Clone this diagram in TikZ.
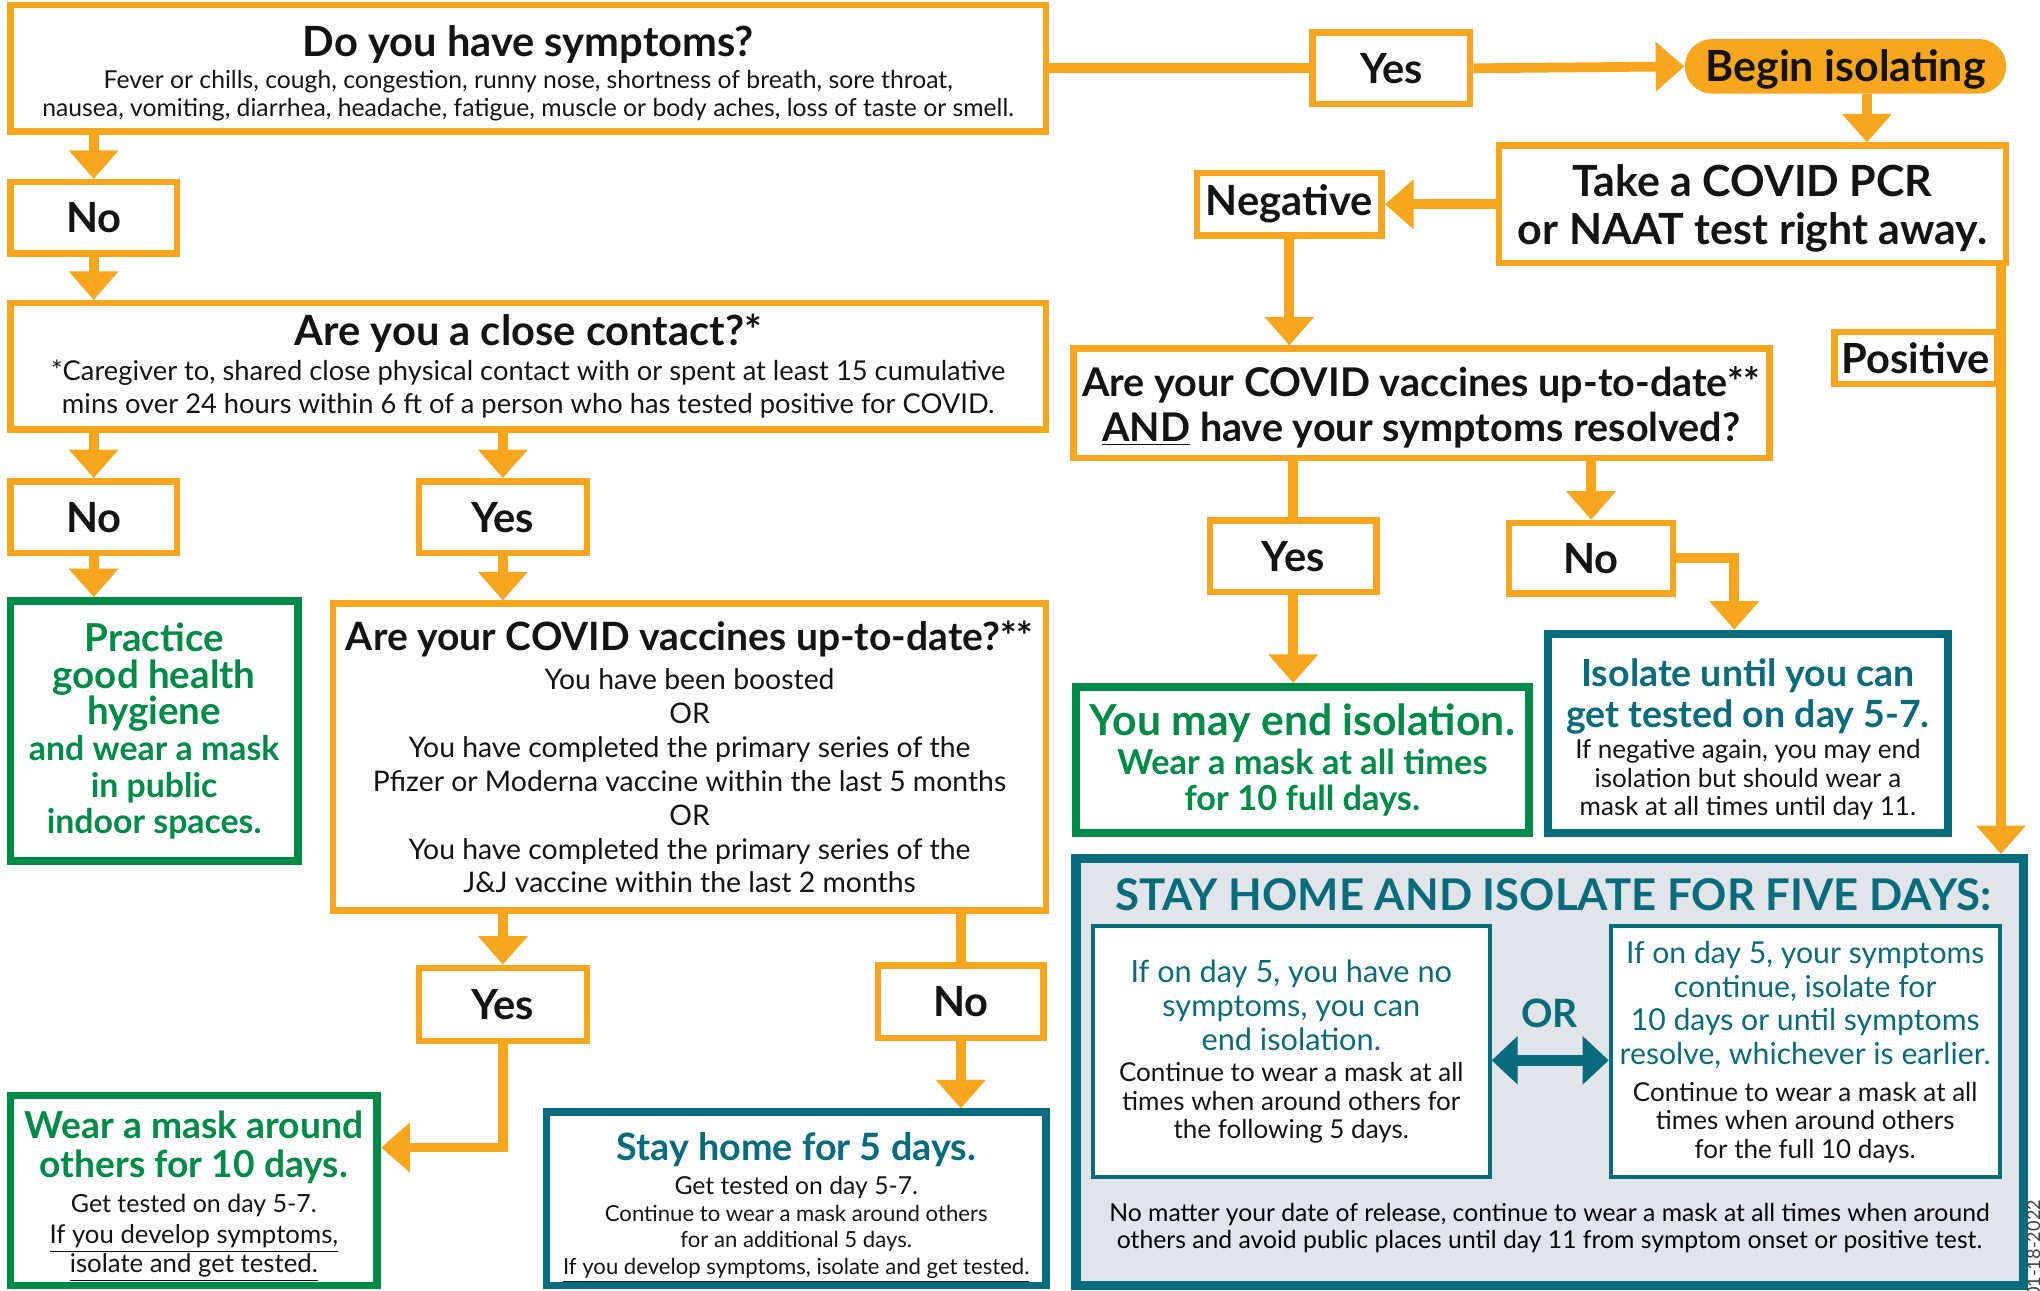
\documentclass[tikz,border=0pt]{standalone}
\usepackage{fontspec}
\setmainfont{Lato}
\usetikzlibrary{arrows.meta,calc}
\definecolor{org}{RGB}{247,166,30}
\definecolor{grn}{RGB}{0,140,70}
\definecolor{tel}{RGB}{8,108,125}
\definecolor{gry}{RGB}{225,228,232}
\definecolor{ink}{RGB}{20,20,20}
\newcommand\fs[2]{\fontsize{#1}{#2}\selectfont}
\newcommand\pb[2]{\parbox{#1}{\centering #2}}
\begin{document}
\begin{tikzpicture}[x=0.5pt,y=-0.5pt,
  obox/.style={draw=org, line width=2.5pt, fill=white, inner sep=0pt, text=ink},
  gbox/.style={draw=grn, line width=3pt, fill=white, inner sep=0pt, text=ink},
  tbox/.style={draw=tel, line width=3pt, fill=white, inner sep=0pt, text=ink},
  lbl/.style={obox, font=\fs{16}{18}\bfseries},
  conn/.style={draw=org, line width=3.75pt},
  arr/.style={conn, -{Triangle[width=18.5pt,length=11pt]}}]
\useasboundingbox (0,0) rectangle (1568,992);

% ---------- top row ----------
\node[obox, minimum width=398pt, minimum height=48.5pt] (sym) at (406,52.5)
  {\pb{392pt}{\vspace*{4pt}\fs{16}{18}\bfseries Do you have symptoms?\\[1pt]\fs{9.5}{11}\mdseries Fever or chills, cough, congestion, runny nose, shortness of breath, sore throat,\\nausea, vomiting, diarrhea, headache, fatigue, muscle or body aches, loss of taste or smell.}};
\node[lbl, minimum width=60.5pt, minimum height=27.5pt] (yes1) at (1069.5,52.5) {Yes};
\node[fill=org, rounded corners=10.5pt, minimum width=123.5pt, minimum height=21pt, inner sep=0pt, text=ink, text depth=1pt, font=\fs{16.5}{18}\bfseries] (begin) at (1418.5,51) {Begin isolating};
\node[obox, minimum width=195pt, minimum height=45pt] (pcr) at (1347,157)
  {\pb{192pt}{\vspace*{3pt}\fs{16.5}{18.5}\bfseries Take a COVID PCR\\or NAAT test right away.}};
\node[lbl, minimum width=71pt, minimum height=24pt] (neg) at (991,157) {Negative};
\node[obox, minimum width=267.5pt, minimum height=42pt] (vac2) at (1092.5,310)
  {\pb{265pt}{\vspace*{3pt}\fs{15.2}{17}\bfseries Are your COVID vaccines up-to-date**\\\underline{AND} have your symptoms resolved?}};
\node[lbl, minimum width=62.5pt, minimum height=20pt] (pos) at (1472.5,275) {Positive};
\node[lbl, minimum width=64pt, minimum height=27.5pt] (yes2) at (994,427.5) {Yes};
\node[lbl, minimum width=63pt, minimum height=27pt] (no2) at (1223,429) {No};
\node[gbox, minimum width=174pt, minimum height=56pt] (endiso) at (1001,584)
  {\pb{171pt}{\color{grn}\bfseries\fs{16.4}{16}You may end isolation.\\[1pt]\fs{13.2}{14}Wear a mask at all times\\for 10 full days.}};
\node[tbox, minimum width=153.5pt, minimum height=76.5pt] (isol) at (1343.5,563.5)
  {\pb{151pt}{\vspace*{5pt}\color{tel}\bfseries\fs{14.4}{15.5}Isolate until you can\\get tested on day 5-7.\\[1pt]\color{ink}\fs{10}{11}\mdseries If negative again, you may end\\isolation but should wear a\\mask at all times until day 11.}};

% ---------- stay home box ----------
\node[draw=tel, fill=gry, line width=3.5pt, minimum width=364pt, minimum height=164pt, inner sep=0pt] (stay) at (1191,824) {};
\node[text=tel, font=\fs{16.8}{18}\bfseries, inner sep=0pt] (staytitle) at (1194,688) {STAY HOME AND ISOLATE FOR FIVE DAYS:};
\node[draw=tel, fill=white, line width=1.5pt, minimum width=152.5pt, minimum height=96.5pt, inner sep=0pt] (sleft) at (992.5,808.5)
  {\pb{149pt}{\color{tel}\fs{11.8}{13}If on day 5, you have no\\symptoms, you can\\end isolation.\\[1pt]\color{ink}\fs{10}{11}Continue to wear a mask at all\\times when around others for\\the following 5 days.}};
\node[draw=tel, fill=white, line width=1.5pt, minimum width=149.5pt, minimum height=96.5pt, inner sep=0pt] (sright) at (1387.5,808.5)
  {\pb{148pt}{\color{tel}\fs{11.6}{13}If on day 5, your symptoms\\continue, isolate for\\10 days or until symptoms\\resolve, whichever is earlier.\\[3pt]\color{ink}\fs{10}{11}Continue to wear a mask at all\\times when around others\\for the full 10 days.}};
\node[text=tel, font=\fs{15}{18}\bfseries, inner sep=0pt] (or) at (1191,779) {OR};
\coordinate (yor) at (0,815);
\draw[tel, line width=4pt, {Triangle[width=18pt,length=10pt]}-{Triangle[width=18pt,length=10pt]}] (sleft.east |- yor) -- (sright.west |- yor);
\node[inner sep=0pt] (staybot) at (1191,944)
  {\pb{355pt}{\fs{9.5}{10.5}No matter your date of release, continue to wear a mask at all times when around\\others and avoid public places until day 11 from symptom onset or positive test.}};
\node[rotate=90, anchor=west, inner sep=0pt, text=black!75, font=\fs{7}{8}] (date) at (1563,998) {01-18-2022};

% ---------- left column ----------
\node[lbl, minimum width=64pt, minimum height=27.5pt] (no1) at (72,167.5) {No};
\node[obox, minimum width=398pt, minimum height=48.5pt] (close) at (406,281.5)
  {\pb{394pt}{\fs{16}{17}\bfseries Are you a close contact?*\\[1pt]\fs{10.5}{12.5}\mdseries *Caregiver to, shared close physical contact with or spent at least 15 cumulative\\mins over 24 hours within 6 ft of a person who has tested positive for COVID.}};
\node[lbl, minimum width=64pt, minimum height=27.5pt] (no3) at (72,397.5) {No};
\node[lbl, minimum width=64.5pt, minimum height=27.5pt] (yes3) at (386.5,397.5) {Yes};
\node[gbox, minimum width=110.5pt, minimum height=100pt] (practice) at (118.5,562)
  {\pb{107pt}{\color{grn}\bfseries\fs{14.8}{14}Practice\\good health\\hygiene\\\fs{13}{14}and wear a mask\\in public\\indoor spaces.}};
\node[obox, minimum width=274pt, minimum height=118pt] (vac1) at (530,582)
  {\pb{272pt}{\fs{15}{16}\bfseries Are your COVID vaccines up-to-date?**\\[2pt]\fs{10.9}{13}\mdseries You have been boosted\\OR\\You have completed the primary series of the\\Pfizer or Moderna vaccine within the last 5 months\\OR\\You have completed the primary series of the\\J\&J vaccine within the last 2 months}};
\node[lbl, minimum width=64.5pt, minimum height=28pt] (yes4) at (386.5,772) {Yes};
\node[lbl, minimum width=63.5pt, minimum height=28pt] (no4) at (738.5,770) {No};
\node[gbox, minimum width=141pt, minimum height=73pt] (wear) at (149,915)
  {\pb{138pt}{\vspace*{4.5pt}\color{grn}\bfseries\fs{14.3}{15}Wear a mask around\\others for 10 days.\\[1pt]\color{ink}\mdseries\fs{9.6}{12.5}Get tested on day 5-7.\\[1pt]\fs{9.9}{11}\underline{If you develop symptoms,}\\\underline{isolate and get tested.}}};
\node[tbox, minimum width=192pt, minimum height=66.5pt] (stay5) at (612,921.5)
  {\pb{188pt}{\vspace*{7pt}\color{tel}\bfseries\fs{14.5}{15}Stay home for 5 days.\\[1pt]\color{ink}\mdseries\fs{9.5}{12}Get tested on day 5-7.\\[0.5pt]\fs{8.5}{10}Continue to wear a mask around others\\for an additional 5 days.\\\underline{If you develop symptoms, isolate and get tested.}}};

% ---------- connectors ----------
\coordinate (xa) at (1435,0);
\coordinate (xp) at (1538,0);
\coordinate (xn2) at (1333,0);
\coordinate (yw) at (0,882);
\draw[conn] (sym.east) -- (yes1.west);
\draw[arr] (yes1.east) -- (begin.west);
\draw[arr] (xa |- begin.south) -- (xa |- pcr.north);
\draw[arr] (pcr.west) -- (neg.east);
\draw[arr] (neg.south) -- (neg.south |- vac2.north);
\draw[arr] (xp |- pcr.south) -- (xp |- stay.north);
\draw[conn] (yes2.north |- vac2.south) -- (yes2.north);
\draw[arr] (yes2.south) -- (yes2.south |- endiso.north);
\draw[arr] (no2.north |- vac2.south) -- (no2.north);
\draw[arr] (no2.east) -- (xn2 |- no2.east) -- (xn2 |- isol.north);
\draw[arr] (no1.north |- sym.south) -- (no1.north);
\draw[arr] (no1.south) -- (no1.south |- close.north);
\draw[arr] (no3.north |- close.south) -- (no3.north);
\draw[arr] (yes3.north |- close.south) -- (yes3.north);
\draw[arr] (no3.south) -- (no3.south |- practice.north);
\draw[arr] (yes3.south) -- (yes3.south |- vac1.north);
\draw[arr] (yes4.north |- vac1.south) -- (yes4.north);
\draw[conn] (no4.north |- vac1.south) -- (no4.north);
\draw[arr] (yes4.south) -- (yes4.south |- yw) -- (wear.east |- yw);
\draw[arr] (no4.south) -- (no4.south |- stay5.north);
\end{tikzpicture}
\end{document}
